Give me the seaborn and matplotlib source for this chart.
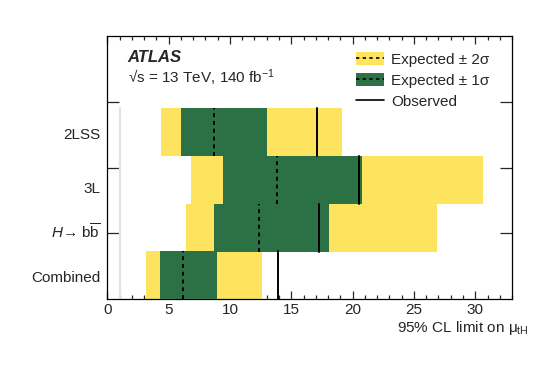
import matplotlib
matplotlib.use("Agg")
import matplotlib.pyplot as plt
import seaborn as sns
from matplotlib.patches import Patch
from matplotlib.lines import Line2D
from matplotlib.ticker import MultipleLocator, FixedLocator

# ---- data ----
categories = ["Combined", r"$\it{H}$→ b$\overline{\rm b}$", "3L", "2LSS"]
minus2 = [3.15, 6.41, 6.82, 4.35]
minus1 = [4.30, 8.70, 9.46, 6.00]
expected = [6.14, 12.36, 13.80, 8.72]
plus1 = [8.97, 18.04, 20.73, 12.99]
plus2 = [12.63, 26.90, 30.65, 19.13]
observed = [13.94, 17.28, 20.50, 17.12]
sm_value = 1.0

# layout (y in axis units 0..4)
band_bottom = [0.0, 0.715, 1.445, 2.175]
band_height = 0.73
label_pos = [0.35, 1.04, 1.69, 2.52]

sns.set_theme(style="ticks")
plt.rcParams["font.family"] = ["Liberation Sans", "DejaVu Sans"]
plt.rcParams["mathtext.fontset"] = "custom"
plt.rcParams["mathtext.rm"] = "Liberation Sans"
plt.rcParams["mathtext.it"] = "Liberation Sans:italic"
plt.rcParams["mathtext.bf"] = "Liberation Sans:bold"

yellow = "#FEE45E"
green = "#2C7045"
FS = 11

fig = plt.figure(figsize=(5.39, 3.67), dpi=100)
ax = fig.add_axes([0.199, 0.185, 0.751, 0.717])

top_of_bands = band_bottom[-1] + band_height
ax.plot([sm_value, sm_value], [0, top_of_bands], color="#e3e3e3", lw=1.6, zorder=1)

for i in range(len(categories)):
    b0 = band_bottom[i]
    ax.barh(b0, plus2[i] - minus2[i], left=minus2[i], height=band_height,
            align="edge", color=yellow, lw=0, zorder=2)
    ax.barh(b0, plus1[i] - minus1[i], left=minus1[i], height=band_height,
            align="edge", color=green, lw=0, zorder=3)
    ax.plot([expected[i]] * 2, [b0, b0 + band_height], color="black",
            ls=(0, (2, 2)), lw=1.4, zorder=4)
    ax.plot([observed[i]] * 2, [b0, b0 + band_height], color="black",
            lw=1.4, zorder=5)

ax.set_xlim(0, 33)
ax.set_ylim(0, 4)

ax.xaxis.set_major_locator(MultipleLocator(5))
ax.xaxis.set_minor_locator(MultipleLocator(1))
ax.tick_params(axis="x", which="major", direction="in", length=6, width=0.9,
               top=True, bottom=True, labelsize=FS, pad=3)
ax.tick_params(axis="x", which="minor", direction="in", length=3, width=0.9,
               top=True, bottom=True)

ax.yaxis.set_major_locator(FixedLocator(label_pos))
ax.set_yticklabels(categories)
ax.yaxis.set_minor_locator(FixedLocator([1, 2, 3]))
ax.tick_params(axis="y", which="major", length=0, labelsize=FS, pad=5)
ax.tick_params(axis="y", which="minor", direction="in", length=8.6, width=0.9,
               left=True, right=True)

for s in ax.spines.values():
    s.set_linewidth(0.9)
    s.set_color("black")
    s.set_visible(True)

ax.text(0.05, 0.92, "ATLAS", transform=ax.transAxes, fontsize=12,
        fontweight="bold", fontstyle="italic", va="center")
ax.text(0.05, 0.84, "√s = 13 TeV, 140 fb$^{-1}$", transform=ax.transAxes,
        fontsize=FS, va="center")

fig.text(529 / 539, 1 - 328 / 367, "95% CL limit on μ$_{\\rm tH}$",
         ha="right", va="center", fontsize=FS)

handles = [
    (Patch(facecolor=yellow, lw=0), Line2D([], [], color="black", ls=(0, (2, 2)), lw=1.2)),
    (Patch(facecolor=green, lw=0), Line2D([], [], color="black", ls=(0, (2, 2)), lw=1.2)),
    Line2D([], [], color="black", lw=1.2),
]
labels = ["Expected ± 2σ", "Expected ± 1σ", "Observed"]
leg = ax.legend(handles, labels, loc="upper left", bbox_to_anchor=(0.615, 0.94),
                frameon=False, fontsize=FS, handlelength=1.85, handleheight=1.0,
                handletextpad=0.45, labelspacing=0.38, borderpad=0, borderaxespad=0)

fig.savefig("out.png", dpi=100)
